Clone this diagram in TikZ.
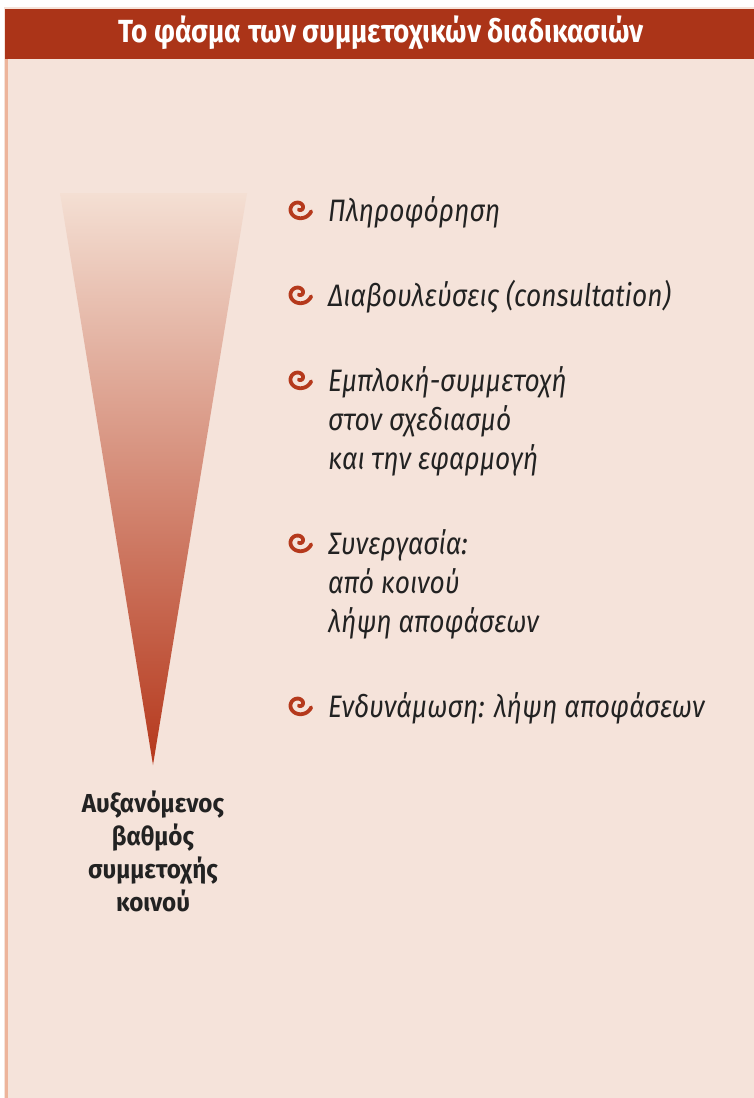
\documentclass[tikz,border=0pt]{standalone}
\usepackage{fontspec}
\setmainfont{Fira Sans}
\newfontfamily\titlefont{Fira Sans}[FakeStretch=0.87]
\newfontfamily\itemfont{Fira Sans}[FakeStretch=0.85]
\newfontfamily\labelfont{Fira Sans}[FakeStretch=0.93]
\definecolor{bgc}{HTML}{F5E3DA}
\definecolor{barc}{HTML}{AB3418}
\definecolor{stripec}{HTML}{EDB49B}
\definecolor{tritop}{HTML}{F4DFD3}
\definecolor{tribot}{HTML}{B5381C}
\definecolor{swirlc}{HTML}{B5391C}
\definecolor{textc}{HTML}{222222}
\tikzset{
  itemtext/.style={anchor=base west, inner sep=0pt, text=textc,
    font=\itemfont\itshape\fontsize{31}{39}\selectfont},
  labeltext/.style={anchor=base, inner sep=0pt, text=textc,
    font=\labelfont\bfseries\fontsize{26}{33}\selectfont},
  titletext/.style={inner sep=0pt, text=white,
    font=\titlefont\bfseries\fontsize{32}{36}\selectfont},
  swirl/.pic={
    \draw[swirlc, line width=3.8pt, line cap=round]
      plot[domain=-100:345, samples=80, smooth, variable=\t]
      ({1.2*(1+9.5*(\t+100)/445)*cos(\t)}, {-1.1*(1+9.5*(\t+100)/445)*sin(\t)});
  }
}
\begin{document}
\begin{tikzpicture}[x=1pt, y=-1pt]
\useasboundingbox (0,0) rectangle (754,1098);
\fill[white] (0,0) rectangle (754,1098);
% background panel
\fill[bgc] (4,7) rectangle (754,1098);
\fill[stripec] (5,58) rectangle (7.5,1098);
% title bar
\fill[barc] (5,8.5) rectangle (754,58.5);
\node[titletext] (title) at (381,33) {Το φάσμα των συμμετοχικών διαδικασιών};
% gradient triangle
\shade[top color=tritop, bottom color=tribot] (60,193) -- (247,193) -- (153,765) -- cycle;
% label
\node[labeltext] (l1) at (153,812) {Αυξανόμενος};
\node[labeltext] (l2) at (153,845) {βαθμός};
\node[labeltext] (l3) at (153,878) {συμμετοχής};
\node[labeltext] (l4) at (153,911) {κοινού};
% bullets
\pic at (299,208.3) {swirl};
\pic at (299,293.3) {swirl};
\pic at (299,378.3) {swirl};
\pic at (299,541.3) {swirl};
\pic at (299,704.3) {swirl};
% items
\node[itemtext] (a1) at (328,221) {Πληροφόρηση};
\node[itemtext] (b1) at (328,306) {Διαβουλεύσεις (consultation)};
\node[itemtext] (c1) at (328,391) {Εμπλοκή-συμμετοχή};
\node[itemtext] (c2) at (328,430) {στον σχεδιασμό};
\node[itemtext] (c3) at (328,469) {και την εφαρμογή};
\node[itemtext] (d1) at (328,554) {Συνεργασία:};
\node[itemtext] (d2) at (328,593) {από κοινού};
\node[itemtext] (d3) at (328,632) {λήψη αποφάσεων};
\node[itemtext] (e1) at (328,717) {Ενδυνάμωση: λήψη αποφάσεων};
\end{tikzpicture}
\end{document}
